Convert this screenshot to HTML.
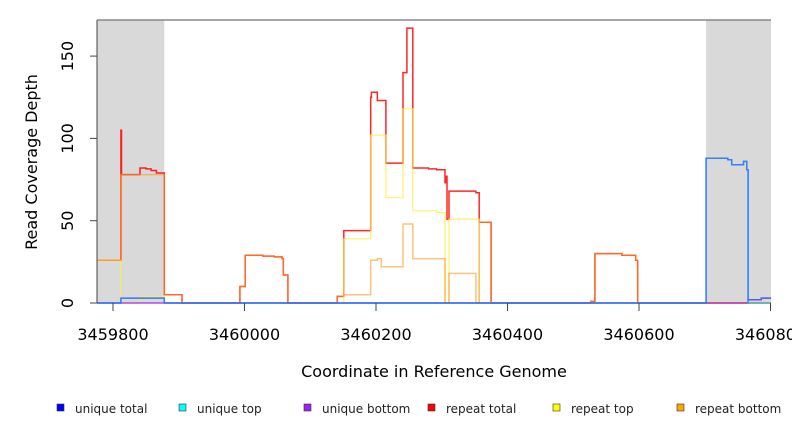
<!DOCTYPE html>
<html><head><meta charset="utf-8"><style>
body{margin:0;background:#fff;}
svg{display:block;font-family:"DejaVu Sans","Liberation Sans",sans-serif;}
</style></head><body>
<svg id="chart" width="792" height="432">
<g id="plot"></g>
</svg>
<script>
const yTicks=[0,50,100,150];
const xTicks=[3459800,3460000,3460200,3460400,3460600,3460800];
const greyBands=[[3459775,3459878],[3460702,3460801]];
const redX=[3459775,3459812,3459813,3459841,3459850,3459858,3459866,3459878,3459905,3459993,3460001,3460028,3460045,3460057,3460059,3460066,3460141,3460151,3460192,3460193,3460202,3460215,3460241,3460247,3460256,3460280,3460292,3460305,3460306,3460308,3460311,3460352,3460357,3460375,3460527,3460533,3460574,3460595,3460598,3460801];
const redV=[26,105,78,82,81.5,80.5,79,5,0,10,29,28.5,28,27,17,0,4,44,125,128,123,85,140,167,82,81.5,81,73,77,51,68,67,49,0,1,30,29,26,0,0];
const yellowX=[3459775,3459812,3459841,3459878,3460151,3460192,3460215,3460241,3460256,3460292,3460305,3460311,3460357,3460801];
const yellowV=[26,0,4,0,39,102,64,118,56,55,0,51,0,0];
const orangeX=[3459775,3459812,3459878,3459905,3459993,3460001,3460028,3460045,3460057,3460059,3460066,3460141,3460151,3460192,3460202,3460208,3460241,3460256,3460305,3460311,3460352,3460357,3460375,3460527,3460533,3460574,3460595,3460598,3460801];
const orangeV=[26,78,5,0,10,29,28.5,28,27,17,0,4,5,26,27,22,48,27,0,18,0,49,0,1,30,29,26,0,0];
const blueX=[3459775,3459812,3459878,3460702,3460735,3460741,3460759,3460764,3460766,3460786,3460801];
const blueV=[0,3,0,88,87,84,86,81,2,3,3];
const cyanX=[3459775,3459812,3459878,3460702,3460735,3460741,3460759,3460764,3460766,3460801];
const cyanV=[0,3,0,88,87,84,86,81,0,0];
const purpleX=[3459775,3460766,3460786,3460801];
const purpleV=[0,2,3,3];
const legendLabels=["unique total","unique top","unique bottom","repeat total","repeat top","repeat bottom"];
const legendColors=["#0000ff","#00ffff","#a020f0","#ff0000","#ffff00","#ffa500"];

const X0=97,X1=771,Y0=303,Y1=20;
function sx(c){return 113+(c-3459800)*131.5/200;}
function sy(v){return 303-v*82.3/50;}
const NS="http://www.w3.org/2000/svg";
const svgEl=document.getElementById('chart');
function mk(t,a,p){const e=document.createElementNS(NS,t);for(const k in a)e.setAttribute(k,a[k]);(p||svgEl).appendChild(e);return e;}

greyBands.forEach((b,i)=>{
 const r=mk('rect',{x:Math.max(X0,sx(b[0])),y:Y1,width:Math.min(X1,sx(b[1]))-Math.max(X0,sx(b[0])),height:Y0-Y1,fill:'#d9d9d9'});
 
 
});
const topBorder=mk('line',{x1:X0,x2:X1,y1:Y1,y2:Y1,stroke:'#888','stroke-width':1.5});



function step(xs,vs,color,op,w,name){
 let d='';
 for(let i=0;i<xs.length;i++){
  const x=Math.min(X1,Math.max(X0,sx(xs[i])));
  d+=(i===0?'M':'L')+x.toFixed(1)+','+sy(i===0?vs[0]:vs[i-1]).toFixed(1)+'L'+x.toFixed(1)+','+sy(vs[i]).toFixed(1);
 }
 const p=mk('path',{d:d,fill:'none',stroke:color,'stroke-opacity':op,'stroke-width':w});
 
 
}
step(redX,redV,'#ff0000',0.85,1.5,'repeat-total-line');
step(yellowX,yellowV,'#ffee44',0.8,1.2,'repeat-top-line');
step(orangeX,orangeV,'#ff9a20',0.6,1.5,'repeat-bottom-line');
step(purpleX,purpleV,'#a020f0',0.8,1.5,'unique-bottom-line');
step(cyanX,cyanV,'#00bfff',0.7,1.5,'unique-top-line');
step(blueX,blueV,'#3060ff',0.7,1.5,'unique-total-line');

const la=mk('line',{x1:X0,x2:X0,y1:Y1,y2:Y0,stroke:'#444','stroke-width':1});


yTicks.forEach(v=>{
 const t=mk('line',{x1:90,x2:X0,y1:sy(v),y2:sy(v),stroke:'#444'});
 
 
 const l=mk('text',{x:73,y:sy(v),transform:`rotate(-90 73 ${sy(v)})`,'text-anchor':'middle','font-size':16,fill:'#000'});
 l.textContent=v;
 
 
});
xTicks.forEach(v=>{
 const t=mk('line',{x1:sx(v),x2:sx(v),y1:Y0,y2:311,stroke:'#444'});
 
 
 const l=mk('text',{x:sx(v),y:340,'text-anchor':'middle','font-size':16,fill:'#000'});
 l.textContent=v;
 
 
});
const xt=mk('text',{x:434,y:377,'text-anchor':'middle','font-size':16,fill:'#000'});
xt.textContent='Coordinate in Reference Genome';


const yt=mk('text',{x:37,y:162,transform:'rotate(-90 37 162)','text-anchor':'middle','font-size':16,fill:'#000'});
yt.textContent='Read Coverage Depth';



const legX=[57,179,304,428,553,677];
legendLabels.forEach((lab,i)=>{
 const g=mk('g',{});
 
 
 mk('rect',{x:legX[i],y:404,width:7,height:7,fill:legendColors[i],stroke:'#333','stroke-width':0.6},g);
 const t=mk('text',{x:legX[i]+18,y:413,'font-size':12,fill:'#222'},g);
 t.textContent=lab;
});
</script>
</body></html>
